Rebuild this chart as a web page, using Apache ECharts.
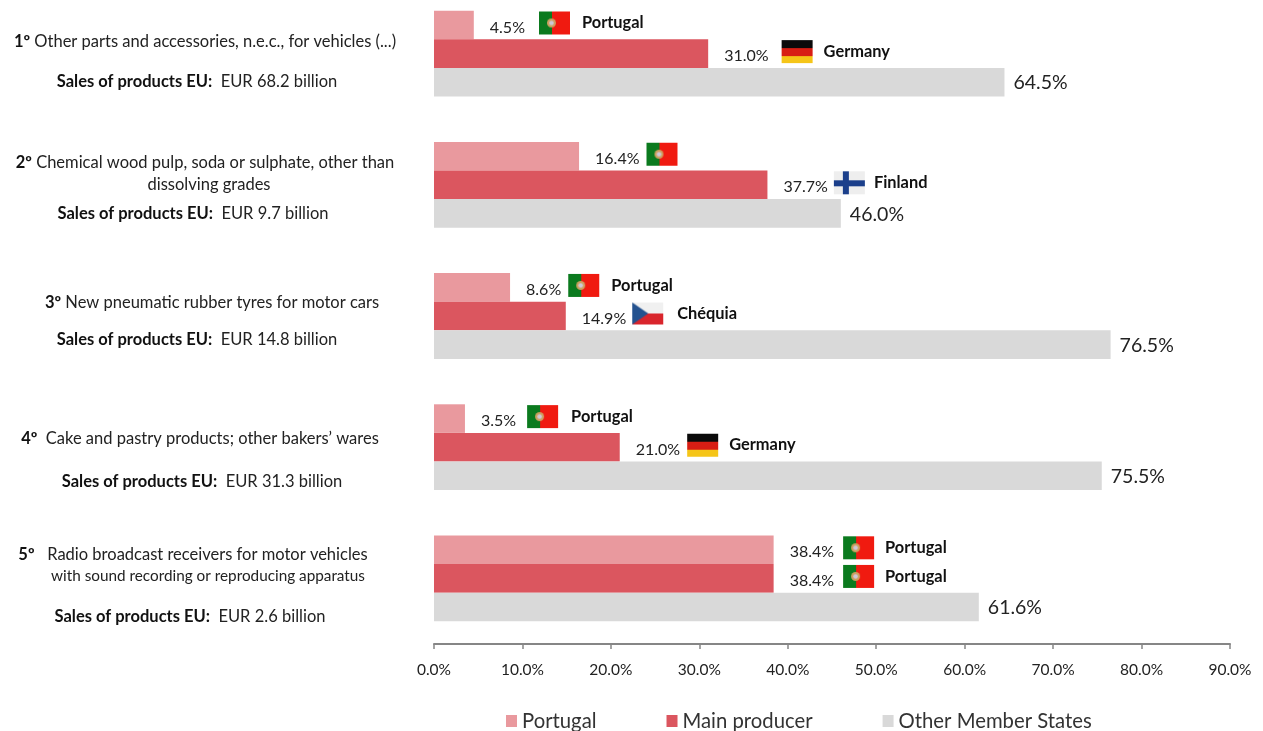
<!DOCTYPE html>
<html><head><meta charset="utf-8">
<style>html,body{margin:0;background:#fff}#c{width:1263px;height:731px}</style>
<script src="https://cdn.jsdelivr.net/npm/echarts@6/dist/echarts.min.js"></script>
</head><body><div id="c"></div>
<script>
const categories = ['1º','2º','3º','4º','5º'];
const portugalValues = [4.5,16.4,8.6,3.5,38.4];
const mainValues = [31.0,37.7,14.9,21.0,38.4];
const otherValues = [64.5,46.0,76.5,75.5,61.6];
const portugalNames = ['Portugal','','Portugal','Portugal','Portugal'];
const mainNames = ['Germany','Finland','Chéquia','Germany','Portugal'];
const titles = [
  ['Other parts and accessories, n.e.c., for vehicles (...)'],
  ['Chemical wood pulp, soda or sulphate, other than','dissolving grades'],
  ['New pneumatic rubber tyres for motor cars'],
  [' Cake and pastry products; other bakers\u2019 wares'],
  ['  Radio broadcast receivers for motor vehicles','with sound recording or reproducing apparatus']
];
const salesTexts = ['EUR 68.2 billion','EUR 9.7 billion','EUR 14.8 billion','EUR 31.3 billion','EUR 2.6 billion'];

const portugalGaps = [[13,11],[6,0],[6,11],[10,12],[8,10]];
const mainGaps = [[12,10],[5,8],[5,13],[6,10],[8,10]];

const FONT = 'Lato';
function flag(draw){
  const c = document.createElement('canvas'); c.width = 33; c.height = 25;
  const g = c.getContext('2d');
  g.filter = 'blur(0.7px)';
  draw(g, 33, 25);
  return c;
}
const flags = {
  PT: flag((g,w,h)=>{
    g.fillStyle='#0b7a1e'; g.fillRect(1,1,13,h-2);
    g.fillStyle='#f01a10'; g.fillRect(14,1,w-15,h-2);
    g.fillStyle='#cfa060'; g.beginPath(); g.arc(13.5,12.5,4.5,0,7); g.fill();
    g.fillStyle='#cfc8d8'; g.beginPath(); g.arc(13.5,12.5,2.3,0,7); g.fill();
  }),
  DE: flag((g,w,h)=>{
    g.fillStyle='#0a0a0a'; g.fillRect(1,1,w-2,8);
    g.fillStyle='#d81e14'; g.fillRect(1,9,w-2,8);
    g.fillStyle='#f5c518'; g.fillRect(1,17,w-2,7);
  }),
  FI: flag((g,w,h)=>{
    g.fillStyle='#eeeeee'; g.fillRect(1,1,w-2,h-2);
    g.fillStyle='#1b3f8b'; g.fillRect(1,10,w-2,6); g.fillRect(10,1,6,h-2);
  }),
  CZ: flag((g,w,h)=>{
    g.fillStyle='#f0f0f0'; g.fillRect(1,1,w-2,12);
    g.fillStyle='#d9252c'; g.fillRect(1,12,w-2,11);
    g.fillStyle='#24528f'; g.beginPath(); g.moveTo(1,1); g.lineTo(17,12); g.lineTo(1,23); g.fill();
  })
};
const flagKey = {Portugal:'PT',Germany:'DE',Finland:'FI','Chéquia':'CZ'};
const richBase = {
  val:{fontFamily:FONT,fontSize:16,color:'#222',padding:[9,0,0,0]},
  name:{fontFamily:FONT,fontSize:16.4,fontWeight:'bold',color:'#111',padding:[0,0,0,0]}
};
for (const k in flags) richBase['f'+k] = {width:33,height:25,backgroundColor:{image:flags[k]}};
for (let w=0;w<=16;w++) richBase['g'+w] = {width:w};

function flagLabel(names,gaps){
  return {
    show:true, position:'right', distance:16, offset:[0,-2], rich:richBase,
    formatter:p=>{
      const n = names[p.dataIndex];
      const key = flagKey[n || 'Portugal'];
      const [a,b] = gaps[p.dataIndex];
      const tail = n ? `{g${b}|}{name|${n}}` : '';
      return `{val|${p.value.toFixed(1)}%}{g${a}|}{f${key}|}${tail}`;
    }
  };
}
const graphics = [];
function addText(str, x, y, rich){
  graphics.push({type:'text',x,y,style:{text:str,textAlign:'center',textVerticalAlign:'middle',
    fontFamily:FONT,fontSize:16.5,fill:'#222',rich}});
}
const tRich = {b:{fontFamily:FONT,fontSize:16.5,fontWeight:'bold',fill:'#111',color:'#111'},
               n:{fontFamily:FONT,fontSize:16.5,fill:'#222',color:'#222'},
               s:{fontFamily:FONT,fontSize:15.3,fill:'#222',color:'#222'}};
const titleLayout = [[[205,42]],[[205,163],[209,185]],[[212,303]],[[200,439]],[[193,555],[208,576]]];
const salesLayout = [[197,82],[193,214],[197,340],[202,482],[190,617]];
categories.forEach((cat,i)=>{
  titles[i].forEach((line,j)=>{
    const [x,y] = titleLayout[i][j];
    const style = (i===4 && j===1) ? 's' : 'n';
    addText(j===0 ? `{b|${cat}} {n|${line}}` : `{${style}|${line}}`, x, y, tRich);
  });
  const [sx,sy] = salesLayout[i];
  addText(`{b|Sales of products EU:}  {n|${salesTexts[i]}}`, sx, sy, tRich);
});

const chart = echarts.init(document.getElementById('c'),null,{renderer:'canvas'});
chart.setOption({
  animation:false,
  backgroundColor:'#fff',
  textStyle:{fontFamily:FONT},
  grid:{left:434,width:796,top:-12,height:656,containLabel:false,outerBoundsMode:'none'},
  xAxis:{type:'value',min:0,max:90,interval:10,position:'bottom',
    axisLine:{show:true,lineStyle:{color:'#868686',width:2}},
    axisTick:{show:true,length:5,lineStyle:{color:'#868686',width:1.5}},
    splitLine:{show:false},
    axisLabel:{fontFamily:FONT,fontSize:15.5,color:'#222',margin:18,formatter:v=>v.toFixed(1)+'%'}},
  yAxis:{type:'category',inverse:true,data:categories,show:false},
  legend:{left:506,top:711,padding:0,itemWidth:11,itemHeight:12,itemGap:70,icon:'rect',
    textStyle:{fontFamily:FONT,fontSize:20.3,color:'#333'},
    data:['Portugal','Main producer','Other Member States']},
  series:[
    {name:'Portugal',type:'bar',barWidth:28.6,barGap:0,data:portugalValues,
      itemStyle:{color:'#E9999E'},label:flagLabel(portugalNames,portugalGaps)},
    {name:'Main producer',type:'bar',barWidth:28.6,barGap:0,data:mainValues,
      itemStyle:{color:'#DB565F'},label:flagLabel(mainNames,mainGaps)},
    {name:'Other Member States',type:'bar',barWidth:28.6,barGap:0,data:otherValues,
      itemStyle:{color:'#D9D9D9'},
      label:{show:true,position:'right',distance:9,offset:[0,1],fontFamily:FONT,fontSize:19.5,color:'#222',
        formatter:p=>p.value.toFixed(1)+'%'}}
  ],
  graphic:graphics
});
</script></body></html>
